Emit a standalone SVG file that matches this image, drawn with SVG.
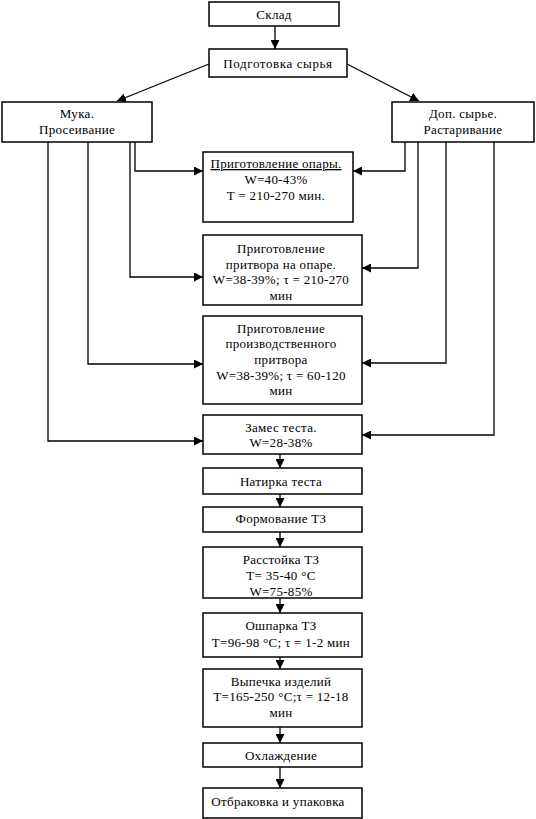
<svg xmlns="http://www.w3.org/2000/svg" width="536" height="819" viewBox="0 0 536 819">
<style>
.box{fill:#fff;stroke:#000;stroke-width:1.5}
.c{fill:none;stroke:#000;stroke-width:1.3}
text{font-family:"Liberation Serif","Times New Roman",serif;font-size:13px;fill:#000;text-anchor:middle;letter-spacing:0.3px}
.w{letter-spacing:0.6px}
</style>
<defs>
<marker id="ah" markerUnits="userSpaceOnUse" markerWidth="10" markerHeight="9" refX="9" refY="4.5" orient="auto">
<path d="M0,0 L9,4.5 L0,9 z" fill="#000"/>
</marker>
</defs>
<rect width="536" height="819" fill="#fff"/>
<g id="connectors">
<path class="c" marker-end="url(#ah)" d="M275,26 V49"/>
<path class="c" marker-end="url(#ah)" d="M209,64 L117,101"/>
<path class="c" marker-end="url(#ah)" d="M347,64 L419,101"/>
<path class="c" marker-end="url(#ah)" d="M135,142 V171 H203"/>
<path class="c" marker-end="url(#ah)" d="M130,142 V277 H203"/>
<path class="c" marker-end="url(#ah)" d="M88,142 V364 H203"/>
<path class="c" marker-end="url(#ah)" d="M48,142 V441 H203"/>
<path class="c" marker-end="url(#ah)" d="M405,142 V171 H353"/>
<path class="c" marker-end="url(#ah)" d="M418,142 V268 H362"/>
<path class="c" marker-end="url(#ah)" d="M446,142 V363 H362"/>
<path class="c" marker-end="url(#ah)" d="M494,142 V435 H362"/>
<path class="c" marker-end="url(#ah)" d="M280,454 V468"/>
<path class="c" marker-end="url(#ah)" d="M280,494 V507"/>
<path class="c" marker-end="url(#ah)" d="M280,532 V547"/>
<path class="c" marker-end="url(#ah)" d="M280,598 V613"/>
<path class="c" marker-end="url(#ah)" d="M280,657 V669"/>
<path class="c" marker-end="url(#ah)" d="M280,727 V743"/>
<path class="c" marker-end="url(#ah)" d="M280,767 V788"/>
</g>
<g id="sklad"><rect class="box" x="209" y="2" width="130" height="24"/><text x="274" y="19">Склад</text></g>
<g id="podgotovka"><rect class="box" x="209" y="49" width="138" height="28"/><text class="w" x="278" y="68">Подготовка сырья</text></g>
<g id="muka"><rect class="box" x="2" y="102" width="150" height="40"/><text x="77" y="118">Мука.</text><text x="77" y="134">Просеивание</text></g>
<g id="dop"><rect class="box" x="392" y="102" width="142" height="40"/><text x="463" y="118">Доп. сырье.</text><text x="463" y="134">Растаривание</text></g>
<g id="opara"><rect class="box" x="203" y="152" width="150" height="70"/><text x="276" y="168" text-decoration="underline">Приготовление опары.</text><text x="276" y="184">W=40-43%</text><text x="276" y="200">T = 210-270 мин.</text></g>
<g id="pritvor1"><rect class="box" x="203" y="235" width="159" height="70"/><text x="281" y="253">Приготовление</text><text x="281" y="269">притвора на опаре.</text><text x="281" y="284">W=38-39%; τ = 210-270</text><text x="281" y="300">мин</text></g>
<g id="pritvor2"><rect class="box" x="203" y="316" width="159" height="88"/><text x="281" y="333">Приготовление</text><text x="281" y="348">производственного</text><text x="281" y="364">притвора</text><text x="281" y="380">W=38-39%; τ = 60-120</text><text x="281" y="395">мин</text></g>
<g id="zames"><rect class="box" x="203" y="415" width="159" height="39"/><text x="281" y="432">Замес теста.</text><text x="281" y="447">W=28-38%</text></g>
<g id="natirka"><rect class="box" x="203" y="468" width="159" height="26"/><text x="281" y="486">Натирка теста</text></g>
<g id="formovanie"><rect class="box" x="203" y="507" width="159" height="25"/><text x="281" y="523">Формование ТЗ</text></g>
<g id="rasstoyka"><rect class="box" x="203" y="547" width="159" height="51"/><text x="281" y="564">Расстойка ТЗ</text><text x="281" y="580">Т= 35-40 °С</text><text x="281" y="596">W=75-85%</text></g>
<g id="oshparka"><rect class="box" x="203" y="613" width="159" height="44"/><text x="281" y="630">Ошпарка ТЗ</text><text x="281" y="647">Т=96-98 °С; τ = 1-2 мин</text></g>
<g id="vypechka"><rect class="box" x="203" y="669" width="159" height="58"/><text x="281" y="686">Выпечка изделий</text><text x="281" y="701">Т=165-250 °С;τ = 12-18</text><text x="281" y="717">мин</text></g>
<g id="ohlazhdenie"><rect class="box" x="203" y="743" width="159" height="24"/><text x="281" y="760">Охлаждение</text></g>
<g id="otbrakovka"><rect class="box" x="203" y="788" width="159" height="30"/><text x="278" y="806">Отбраковка и упаковка</text></g>
</svg>
